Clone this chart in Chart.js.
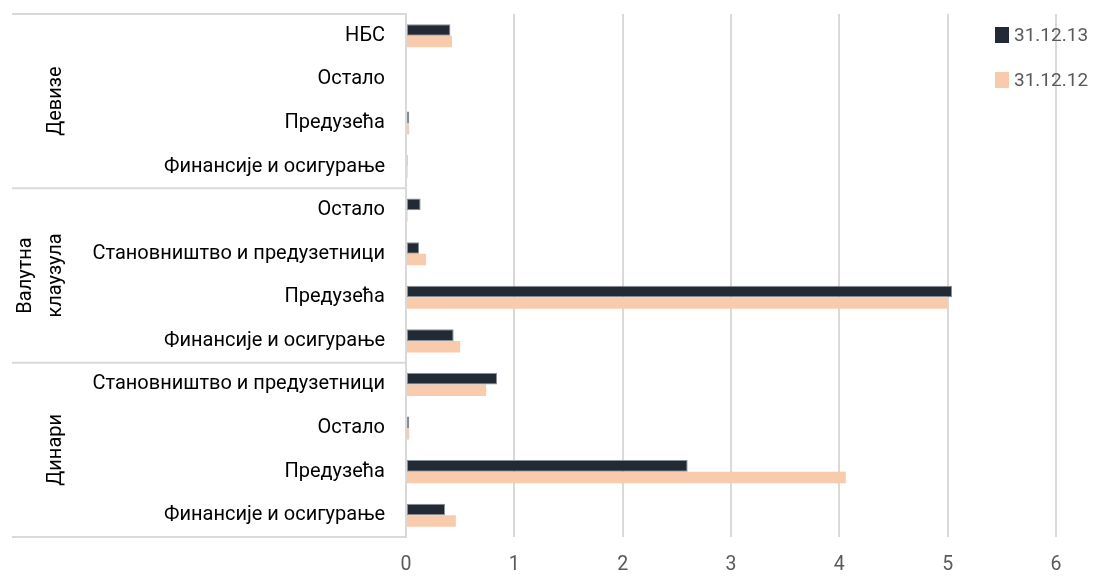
<!DOCTYPE html>
<html>
<head>
<meta charset="utf-8">
<script src="https://cdn.jsdelivr.net/npm/chart.js@4"></script>
<style>
  html, body { margin: 0; padding: 0; background: #fff; }
  #wrap { width: 1094px; height: 577px; }
</style>
</head>
<body>
<div id="wrap"><canvas id="chart" width="1094" height="577"></canvas></div>
<script>
// категорије, одозго надоле
const labels = [
  'НБС', 'Остало', 'Предузећа', 'Финансије и осигурање',
  'Остало', 'Становништво и предузетници', 'Предузећа', 'Финансије и осигурање',
  'Становништво и предузетници', 'Остало', 'Предузећа', 'Финансије и осигурање'
];
// групе: назив (редови) и број категорија
const groups = [
  { name: ['Девизе'], size: 4 },
  { name: ['Валутна', 'клаузула'], size: 4 },
  { name: ['Динари'], size: 4 }
];
const s2013 = [0.41, 0, 0.03, 0.015, 0.135, 0.12, 5.04, 0.44, 0.84, 0.03, 2.60, 0.36];
const s2012 = [0.425, 0, 0.03, 0.015, 0.015, 0.185, 4.995, 0.50, 0.74, 0.03, 4.06, 0.46];
const xTicks = [0, 1, 2, 3, 4, 5, 6];

const FONT = 'Roboto, "Noto Sans", sans-serif';
const LINE = '#d9d9d9';

// групе на оси, линије и легенда
const groupPlugin = {
  id: 'groups',
  afterDraw(chart) {
    const ctx = chart.ctx;
    const y = chart.scales.y;
    const area = chart.chartArea;
    const left = 12;
    ctx.save();
    ctx.strokeStyle = LINE;
    ctx.lineWidth = 2;
    let idx = 0;
    const edges = [area.top];
    groups.forEach(g => {
      idx += g.size;
      edges.push(y.getPixelForValue(idx - 0.5));
    });
    edges.forEach(py => {
      ctx.beginPath();
      ctx.moveTo(left, py);
      ctx.lineTo(area.left, py);
      ctx.stroke();
    });
    ctx.fillStyle = '#000';
    ctx.font = '20px ' + FONT;
    ctx.textAlign = 'center';
    ctx.textBaseline = 'middle';
    groups.forEach((g, i) => {
      const cy = (edges[i] + edges[i + 1]) / 2;
      const n = g.name.length;
      g.name.forEach((t, k) => {
        const cx = 56 - (n - 1 - k) * 30;
        ctx.save();
        ctx.translate(cx, cy);
        ctx.rotate(-Math.PI / 2);
        ctx.fillText(t, 0, 0);
        ctx.restore();
      });
    });
    // легенда
    ctx.textAlign = 'left';
    ctx.font = '19px ' + FONT;
    chart.data.datasets.forEach((ds, i) => {
      const ly = 35 + i * 45;
      ctx.fillStyle = ds.backgroundColor;
      ctx.fillRect(995, ly - 8, 14, 16);
      ctx.fillStyle = '#595959';
      ctx.fillText(ds.label, 1014, ly + 1);
    });
    ctx.restore();
  }
};

new Chart(document.getElementById('chart'), {
  type: 'bar',
  data: {
    labels,
    datasets: [{
      label: '31.12.13',
      data: s2013,
      backgroundColor: '#222a35',
      borderColor: '#8a9098',
      borderWidth: 1,
      borderSkipped: false
    }, {
      label: '31.12.12',
      data: s2012,
      backgroundColor: '#f8cbad',
      borderWidth: 0
    }]
  },
  options: {
    indexAxis: 'y',
    responsive: false,
    animation: false,
    categoryPercentage: 0.53,
    barPercentage: 1,
    layout: { padding: { left: 12, top: 14, right: 38, bottom: 2 } },
    plugins: {
      legend: { display: false },
      tooltip: { enabled: false }
    },
    scales: {
      x: {
        min: xTicks[0],
        max: xTicks[xTicks.length - 1],
        afterBuildTicks: s => { s.ticks = xTicks.map(v => ({ value: v })); },
        afterFit: s => { s.height = 38; },
        grid: { color: LINE, lineWidth: 2, drawTicks: false },
        border: { display: false },
        ticks: { color: '#595959', font: { family: FONT, size: 19.5 }, padding: 16 }
      },
      y: {
        afterFit: s => { s.width = 394; s.paddingTop = 0; s.paddingBottom = 0; },
        grid: { display: false, drawTicks: false },
        border: { display: true, color: LINE, width: 2 },
        ticks: { color: '#000', font: { family: FONT, size: 20 }, padding: 21, autoSkip: false }
      }
    }
  },
  plugins: [groupPlugin]
});
</script>
</body>
</html>
